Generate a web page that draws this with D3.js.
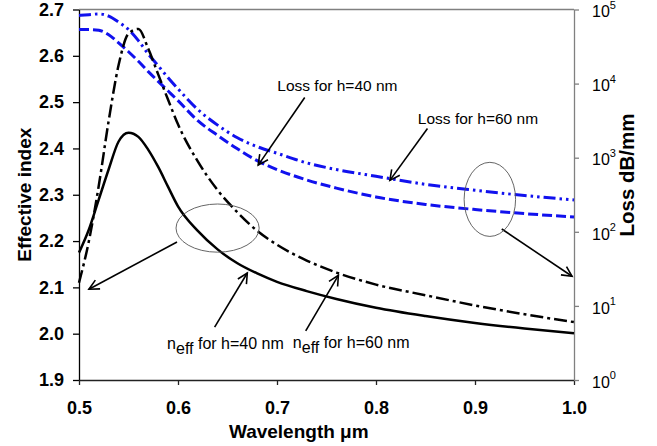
<!DOCTYPE html>
<html>
<head>
<meta charset="utf-8">
<script src="https://cdn.jsdelivr.net/npm/d3@7"></script>
<style>
  body { margin: 0; background: #fff; }
  svg { display: block; font-family: Arial, "Liberation Sans", sans-serif; }
</style>
</head>
<body>
<svg id="chart" width="657" height="446"></svg>
<script>
// wavelength in um
const wavelength = [0.50, 0.51, 0.52, 0.53, 0.54, 0.55, 0.56, 0.57, 0.58, 0.59, 0.60, 0.62, 0.64, 0.66, 0.68, 0.70, 0.73, 0.76, 0.80, 0.85, 0.90, 0.95, 1.00];
// effective index (left axis)
const neff40 = [2.175, 2.225, 2.29, 2.355, 2.415, 2.434, 2.425, 2.397, 2.36, 2.317, 2.275, 2.222, 2.182, 2.152, 2.13, 2.112, 2.092, 2.075, 2.056, 2.038, 2.023, 2.011, 2.001];
const neff60 = [2.11, 2.20, 2.32, 2.46, 2.58, 2.648, 2.658, 2.615, 2.56, 2.505, 2.452, 2.372, 2.31, 2.262, 2.222, 2.192, 2.158, 2.132, 2.106, 2.083, 2.061, 2.042, 2.025];
// loss dB/mm (right log axis)
const loss40 = [53700, 53700, 52500, 45700, 35500, 26900, 20000, 14500, 10700, 7940, 5890, 3160, 2000, 1320, 912, 692, 501, 389, 295, 234, 200, 176, 158];
const loss60 = [83200, 85100, 87100, 81300, 67600, 53700, 38000, 25100, 17400, 12000, 8510, 4470, 2750, 1860, 1410, 1150, 851, 692, 562, 437, 363, 309, 269];

const xTicks = [0.5, 0.6, 0.7, 0.8, 0.9, 1.0];
const yTicks = [1.9, 2.0, 2.1, 2.2, 2.3, 2.4, 2.5, 2.6, 2.7];
const lossTicks = [1, 10, 100, 1000, 10000, 100000];

// annotations, in data units (wavelength, effective index)
const labels = [
  { text: "Loss for h=40 nm", x: 0.761, y: 2.523 },
  { text: "Loss for h=60 nm", x: 0.903, y: 2.452 }
];
const neffLabels = [
  { h: "40", x: 0.589, y: 1.966 },
  { h: "60", x: 0.716, y: 1.970 }
];
const arrows = [
  [0.728, 2.510, 0.681, 2.364],
  [0.852, 2.443, 0.814, 2.331],
  [0.927, 2.226, 0.998, 2.124],
  [0.599, 2.198, 0.510, 2.096],
  [0.637, 2.014, 0.670, 2.131],
  [0.729, 2.006, 0.762, 2.126]
];
const ellipses = [
  { x: 0.640, y: 2.228, rx: 0.042, ry: 0.052 },
  { x: 0.915, y: 2.290, rx: 0.026, ry: 0.080 }
];

const svg = d3.select("#chart");
const plotLeft = 79, plotRight = 574, plotTop = 9.5, plotBottom = 380;

const x = d3.scaleLinear().domain([0.5, 1.0]).range([plotLeft, plotRight]);
const y = d3.scaleLinear().domain([1.9, 2.7]).range([plotBottom, plotTop]);
const yLoss = d3.scaleLog().domain([1, 1e5]).range([plotBottom, plotTop]);

// frame top (grey)
svg.append("line")
  .attr("x1", plotLeft).attr("x2", plotRight).attr("y1", plotTop).attr("y2", plotTop)
  .attr("stroke", "#808080").attr("stroke-width", 1.3);

// left axis
const gy = svg.append("g")
  .attr("transform", `translate(${plotLeft},0)`)
  .call(d3.axisLeft(y).tickValues(yTicks).tickFormat(d3.format(".1f")).tickSize(6).tickSizeOuter(0).tickPadding(9));
gy.selectAll("text").attr("font-size", 18).attr("font-weight", "bold").attr("fill", "#000");
gy.selectAll("line, path").attr("stroke", "#000").attr("stroke-width", 1.3);

// bottom axis
const gx = svg.append("g")
  .attr("transform", `translate(0,${plotBottom})`)
  .call(d3.axisBottom(x).tickValues(xTicks).tickFormat(d3.format(".1f")).tickSize(5).tickSizeOuter(0).tickPadding(16));
gx.selectAll("text").attr("font-size", 18).attr("font-weight", "bold").attr("fill", "#000");
gx.selectAll("line, path").attr("stroke", "#222").attr("stroke-width", 1.3);

// right log axis
const gr = svg.append("g")
  .attr("transform", `translate(${plotRight},0)`)
  .call(d3.axisRight(yLoss).tickValues(lossTicks).tickFormat(() => "").tickSize(5).tickSizeOuter(0).tickPadding(13));
gr.selectAll("line, path").attr("stroke", "#808080").attr("stroke-width", 1.3);
gr.selectAll(".tick text").each(function (d) {
  const t = d3.select(this).attr("font-size", 16).attr("fill", "#000").attr("dy", "0.45em");
  t.append("tspan").text("10");
  t.append("tspan").attr("font-size", 11).attr("dy", "-0.75em").text(Math.round(Math.log10(d)));
});

// axis titles
svg.append("text")
  .attr("transform", `translate(31,${(plotTop + plotBottom) / 2}) rotate(-90)`)
  .attr("text-anchor", "middle")
  .attr("font-size", 19).attr("font-weight", "bold")
  .text("Effective index");
svg.append("text")
  .attr("transform", `translate(634,175) rotate(-90)`)
  .attr("text-anchor", "middle")
  .attr("font-size", 20.5).attr("font-weight", "bold")
  .text("Loss dB/mm");
svg.append("text")
  .attr("x", x(0.722)).attr("y", 438)
  .attr("text-anchor", "middle")
  .attr("font-size", 19).attr("font-weight", "bold")
  .text("Wavelength \u03bcm");

// curves
const neffLine = d3.line().x((d, i) => x(wavelength[i])).y((d) => y(d)).curve(d3.curveMonotoneX);
const lossLine = d3.line().x((d, i) => x(wavelength[i])).y((d) => yLoss(d)).curve(d3.curveMonotoneX);

svg.append("path").datum(loss40).attr("d", lossLine)
  .attr("fill", "none").attr("stroke", "#1111ee").attr("stroke-width", 3)
  .attr("stroke-dasharray", "10,4");
svg.append("path").datum(loss60).attr("d", lossLine)
  .attr("fill", "none").attr("stroke", "#1111ee").attr("stroke-width", 3)
  .attr("stroke-dasharray", "12,4,2.5,4,2.5,4");
svg.append("path").datum(neff40).attr("d", neffLine)
  .attr("fill", "none").attr("stroke", "#000").attr("stroke-width", 2.5);
svg.append("path").datum(neff60).attr("d", neffLine)
  .attr("fill", "none").attr("stroke", "#000").attr("stroke-width", 2.5)
  .attr("stroke-dasharray", "13,4,3,4");

// arrow marker
svg.append("defs").append("marker")
  .attr("id", "head")
  .attr("markerUnits", "userSpaceOnUse")
  .attr("markerWidth", 14).attr("markerHeight", 14)
  .attr("refX", 11).attr("refY", 6)
  .attr("orient", "auto")
  .append("path")
  .attr("d", "M1,1 L11,6 L1,11")
  .attr("fill", "none").attr("stroke", "#000").attr("stroke-width", 1.6);

svg.selectAll(".arrow").data(arrows).enter().append("line")
  .attr("class", "arrow")
  .attr("x1", (d) => x(d[0])).attr("y1", (d) => y(d[1]))
  .attr("x2", (d) => x(d[2])).attr("y2", (d) => y(d[3]))
  .attr("stroke", "#000").attr("stroke-width", 1.6)
  .attr("marker-end", "url(#head)");

svg.selectAll(".ring").data(ellipses).enter().append("ellipse")
  .attr("class", "ring")
  .attr("cx", (d) => x(d.x)).attr("cy", (d) => y(d.y))
  .attr("rx", (d) => x(d.x + d.rx) - x(d.x))
  .attr("ry", (d) => y(d.y - d.ry) - y(d.y))
  .attr("fill", "none").attr("stroke", "#555").attr("stroke-width", 0.9);

svg.selectAll(".lbl").data(labels).enter().append("text")
  .attr("class", "lbl")
  .attr("x", (d) => x(d.x)).attr("y", (d) => y(d.y))
  .attr("text-anchor", "middle")
  .attr("font-size", 15.5)
  .text((d) => d.text);

neffLabels.forEach((d) => {
  const t = svg.append("text")
    .attr("x", x(d.x)).attr("y", y(d.y))
    .attr("font-size", 16);
  t.append("tspan").text("n");
  t.append("tspan").attr("dy", 5).text("eff");
  t.append("tspan").attr("dy", -5).text(` for h=${d.h} nm`);
});
</script>
</body>
</html>
